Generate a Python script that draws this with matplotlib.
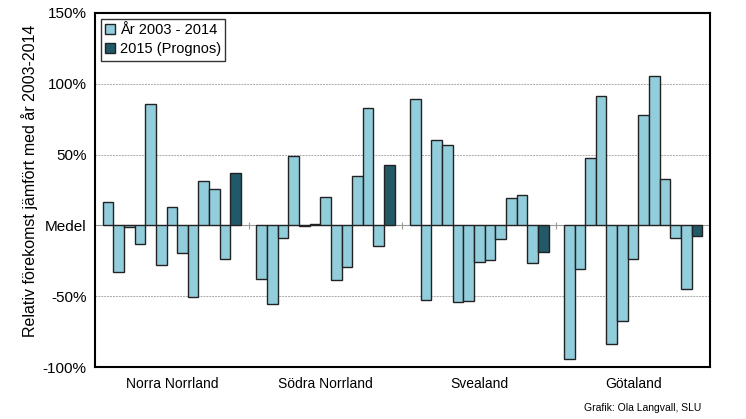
import matplotlib
matplotlib.use("Agg")
import matplotlib.pyplot as plt
import numpy as np

plt.rcParams["font.family"] = ["Liberation Sans", "DejaVu Sans"]

regions = ["Norra Norrland", "Södra Norrland", "Svealand", "Götaland"]

# relative occurrence (%) for 2003-2014, then 2015 forecast
norra_norrland = [16.5, -33, -1.2, -13.2, 85.6, -28.2, 12.9, -19.8, -50.8, 31.5, 25.6, -24]
sodra_norrland = [-37.9, -55.3, -8.7, 48.9, -0.7, 0.9, 19.8, -38.4, -29.4, 35.1, 82.8, -14.8]
svealand = [89.6, -52.7, 60, 56.7, -53.9, -53.4, -25.6, -24.2, -9.9, 19.5, 21.6, -26.4]
gotaland = [-94.1, -31.1, 47.8, 91.1, -84, -67.3, -23.5, 78.1, 105.2, 32.9, -9.2, -44.7]
prognos_2015 = [36.9, 42.6, -19.1, -7.5]

history = [norra_norrland, sodra_norrland, svealand, gotaland]

light = "#92cddc"
dark = "#215968"

fig = plt.figure(figsize=(7.46, 4.19), dpi=100)
ax = fig.add_axes([0.1273, 0.1241, 0.8244, 0.8449])

n_bars = 13
group_w = 0.9
w = group_w / n_bars

for i, vals in enumerate(history):
    start = i - group_w / 2 + w / 2
    xs = start + np.arange(len(vals)) * w
    ax.bar(xs, vals, width=w, color=light, edgecolor="#222222", linewidth=1.0,
           label="År 2003 - 2014" if i == 0 else None, zorder=3)
    ax.bar(start + len(vals) * w, prognos_2015[i], width=w, color=dark,
           edgecolor="#222222", linewidth=1.0,
           label="2015 (Prognos)" if i == 0 else None, zorder=3)

ax.set_xlim(-0.5, len(regions) - 0.5)
ax.set_ylim(-100, 150)

ax.set_yticks([-100, -50, 0, 50, 100, 150])
ax.set_yticklabels(["-100%", "-50%", "Medel", "50%", "100%", "150%"], fontsize=11)
ax.tick_params(axis="y", length=0, pad=6)

ax.set_xticks(range(len(regions)))
ax.set_xticklabels(regions, fontsize=10)
ax.tick_params(axis="x", length=0, pad=7)

for y in [-50, 50, 100]:
    ax.axhline(y, color="#aaaaaa", linewidth=0.7, linestyle=(0, (2, 1)), zorder=1)
ax.axhline(0, color="#999999", linewidth=0.8, zorder=2)
bounds = np.arange(len(regions) - 1) + 0.5
ax.vlines(bounds, -2.5, 2.5, color="#999999", linewidth=0.8, zorder=2)

for s in ax.spines.values():
    s.set_linewidth(1.5)
    s.set_color("black")

ax.set_ylabel("Relativ förekomst jämfört med år 2003-2014", fontsize=11.5)
ax.yaxis.set_label_coords(-0.093, 0.525)

leg = ax.legend(loc="upper left", fontsize=10.5, frameon=True, fancybox=False,
                handlelength=0.7, handleheight=0.7, handletextpad=0.3,
                borderpad=0.3, labelspacing=0.35, borderaxespad=0.4)
leg.get_frame().set_edgecolor("black")
leg.get_frame().set_linewidth(1.0)

fig.text(0.94, 0.015, "Grafik: Ola Langvall, SLU", fontsize=7.5, ha="right", va="bottom")

fig.savefig("out.png", dpi=100)
